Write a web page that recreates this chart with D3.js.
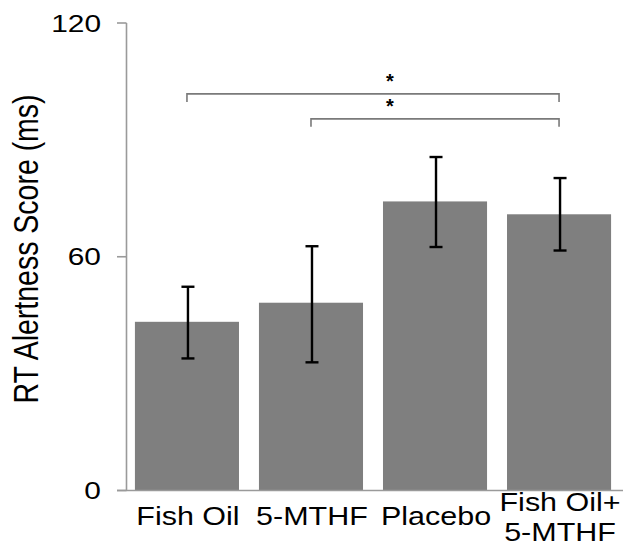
<!DOCTYPE html>
<html>
<head>
<meta charset="utf-8">
<script src="https://cdn.jsdelivr.net/npm/d3@7"></script>
<style>
  body { margin: 0; background: #fff; }
  text { font-family: "Liberation Sans", Arial, sans-serif; fill: #000; }
</style>
</head>
<body>
<script>
// data
const groups = ["Fish Oil", "5-MTHF", "Placebo", "Fish Oil+\n5-MTHF"];
const means = [43.3, 48.2, 74.2, 70.9];
const errHigh = [52.3, 62.7, 85.6, 80.2];
const errLow = [33.9, 32.9, 62.5, 61.6];
const yTicks = [0, 60, 120];
// significance brackets: [from group, to group, level]
const brackets = [
  [0, 3, 101.8],
  [1, 3, 95.4]
];

const width = 635, height = 547;
const sx = 1.22; // the source image is stretched horizontally

const svg = d3.select("body").append("svg")
  .attr("width", width)
  .attr("height", height);

const x = d3.scaleBand()
  .domain(groups)
  .range([125, 621])
  .paddingInner(0.161)
  .paddingOuter(0.08);

const y = d3.scaleLinear()
  .domain([0, 120])
  .range([490.5, 23]);

// bars
svg.append("g").selectAll("rect")
  .data(groups)
  .enter()
  .append("rect")
  .attr("x", d => x(d))
  .attr("width", x.bandwidth())
  .attr("y", (d, i) => y(means[i]))
  .attr("height", (d, i) => y(0) - y(means[i]))
  .attr("fill", "#7f7f7f");

// axes
const axisColor = "#9a9a9a";
svg.append("line")
  .attr("x1", 126.5).attr("x2", 126.5)
  .attr("y1", y(120)).attr("y2", y(0))
  .attr("stroke", axisColor).attr("stroke-width", 1.6);
svg.append("line")
  .attr("x1", 117).attr("x2", 623)
  .attr("y1", y(0)).attr("y2", y(0))
  .attr("stroke", axisColor).attr("stroke-width", 1.6);

const yt = svg.append("g").selectAll("g")
  .data(yTicks)
  .enter()
  .append("g");
yt.append("line")
  .attr("x1", 117).attr("x2", 126.5)
  .attr("y1", d => y(d)).attr("y2", d => y(d))
  .attr("stroke", axisColor).attr("stroke-width", 1.6);
yt.append("text")
  .attr("transform", d => "translate(101," + (y(d) + 8.5) + ") scale(" + sx + ",1)")
  .attr("text-anchor", "end")
  .attr("font-size", 24.5)
  .text(d => d);

// y label
svg.append("text")
  .attr("transform", "translate(38,249) scale(" + sx + ",1) rotate(-90)")
  .attr("text-anchor", "middle")
  .attr("font-size", 28.5)
  .text("RT Alertness Score (ms)");

// x labels
svg.append("g").selectAll("text")
  .data(groups)
  .enter()
  .append("text")
  .attr("transform", d => {
    const lines = d.split("\n").length;
    return "translate(" + (x(d) + x.bandwidth() / 2 + 1) + "," + (lines > 1 ? 511 : 525) + ") scale(" + sx + ",1)";
  })
  .attr("text-anchor", "middle")
  .attr("font-size", 25)
  .each(function (d) {
    const t = d3.select(this);
    d.split("\n").forEach((s, k) => {
      t.append("tspan").attr("x", 0).attr("dy", k ? 30 : 0).text(s);
    });
  });

// error bars
const cap = 6.5;
const eb = svg.append("g").selectAll("g")
  .data(groups)
  .enter()
  .append("g")
  .attr("stroke", "#000")
  .attr("stroke-width", 2.4);
eb.append("line")
  .attr("x1", d => x(d) + x.bandwidth() / 2 + 1)
  .attr("x2", d => x(d) + x.bandwidth() / 2 + 1)
  .attr("y1", (d, i) => y(errHigh[i]))
  .attr("y2", (d, i) => y(errLow[i]));
eb.append("line")
  .attr("x1", d => x(d) + x.bandwidth() / 2 + 1 - cap)
  .attr("x2", d => x(d) + x.bandwidth() / 2 + 1 + cap)
  .attr("y1", (d, i) => y(errHigh[i]))
  .attr("y2", (d, i) => y(errHigh[i]));
eb.append("line")
  .attr("x1", d => x(d) + x.bandwidth() / 2 + 1 - cap)
  .attr("x2", d => x(d) + x.bandwidth() / 2 + 1 + cap)
  .attr("y1", (d, i) => y(errLow[i]))
  .attr("y2", (d, i) => y(errLow[i]));

// significance brackets
const bg = svg.append("g").selectAll("g")
  .data(brackets)
  .enter()
  .append("g");
bg.append("path")
  .attr("d", d => {
    const x0 = x(groups[d[0]]) + x.bandwidth() / 2;
    const x1 = x(groups[d[1]]) + x.bandwidth() / 2;
    const yy = y(d[2]);
    return "M" + x0 + "," + (yy + 8) + "V" + yy + "H" + x1 + "V" + (yy + 8);
  })
  .attr("fill", "none")
  .attr("stroke", "#7a7a7a")
  .attr("stroke-width", 1.6);
bg.append("text")
  .attr("x", x("Placebo") + 7)
  .attr("y", d => y(d[2]) - 6)
  .attr("text-anchor", "middle")
  .attr("font-size", 20)
  .attr("font-weight", "bold")
  .text("*");
</script>
</body>
</html>
